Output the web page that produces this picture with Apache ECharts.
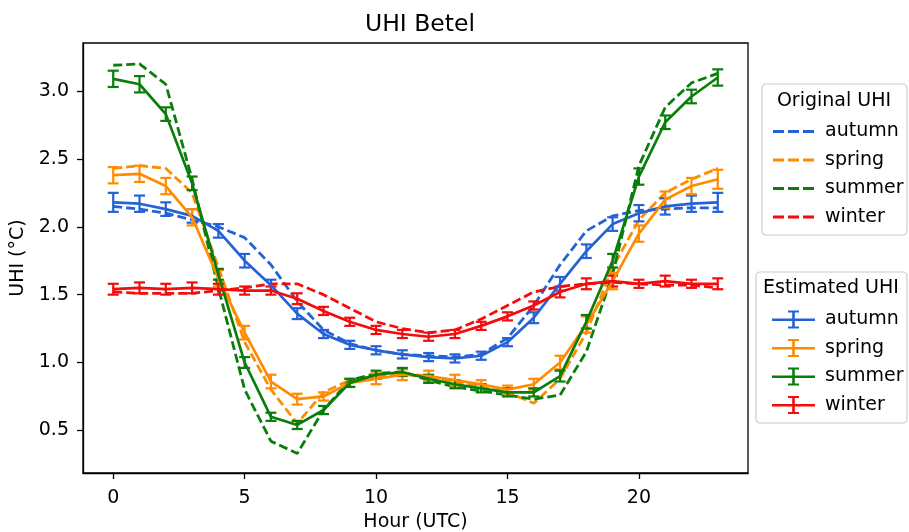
<!DOCTYPE html>
<html>
<head>
<meta charset="utf-8">
<script src="https://cdn.jsdelivr.net/npm/echarts@6/dist/echarts.min.js"></script>
<style>html,body{margin:0;padding:0;background:#fff}#c{width:909px;height:532px}</style>
</head>
<body>
<div id="c"></div>
<script>
const hours = [0,1,2,3,4,5,6,7,8,9,10,11,12,13,14,15,16,17,18,19,20,21,22,23];
const seasons = ['autumn','spring','summer','winter'];
const colors = {autumn:'#2462d6', spring:'#ff8c00', summer:'#0a7d0a', winter:'#f50b0b'};
const xTicks = [0,5,10,15,20];
const yTicks = [0.5,1.0,1.5,2.0,2.5,3.0];

// Original UHI (dashed)
const origAutumn = [2.15,2.13,2.10,2.05,2.00,1.92,1.72,1.45,1.24,1.14,1.09,1.06,1.05,1.04,1.06,1.18,1.42,1.72,1.97,2.08,2.12,2.13,2.14,2.14];
const origSpring = [2.43,2.45,2.43,2.25,1.70,1.15,0.80,0.55,0.78,0.87,0.90,0.92,0.90,0.86,0.82,0.78,0.70,0.88,1.22,1.70,2.05,2.25,2.35,2.43];
const origSummer = [3.19,3.20,3.05,2.35,1.55,0.80,0.42,0.33,0.65,0.87,0.92,0.93,0.87,0.82,0.79,0.76,0.73,0.76,1.08,1.65,2.45,2.88,3.06,3.13];
const origWinter = [1.52,1.51,1.51,1.51,1.53,1.55,1.58,1.58,1.50,1.40,1.30,1.25,1.22,1.24,1.32,1.42,1.52,1.56,1.58,1.59,1.58,1.57,1.57,1.55];

// Estimated UHI (solid with error bars)
const estAutumn = [2.18,2.17,2.13,2.08,1.97,1.75,1.57,1.36,1.21,1.13,1.09,1.06,1.04,1.03,1.05,1.15,1.33,1.58,1.82,2.02,2.10,2.15,2.17,2.18];
const estSpring = [2.38,2.39,2.30,2.07,1.62,1.22,0.86,0.73,0.75,0.85,0.88,0.91,0.90,0.87,0.84,0.80,0.84,1.00,1.28,1.60,1.95,2.20,2.30,2.35];
const estSummer = [3.09,3.05,2.83,2.32,1.65,1.00,0.60,0.54,0.65,0.85,0.91,0.93,0.88,0.84,0.81,0.78,0.78,0.90,1.30,1.75,2.37,2.77,2.96,3.10];
const estWinter = [1.54,1.55,1.54,1.55,1.54,1.53,1.53,1.47,1.38,1.30,1.24,1.21,1.19,1.21,1.27,1.34,1.42,1.52,1.58,1.60,1.58,1.60,1.58,1.58];

const errAutumn = [0.07,0.06,0.05,0.05,0.05,0.05,0.04,0.04,0.03,0.03,0.03,0.03,0.03,0.03,0.03,0.03,0.04,0.05,0.05,0.05,0.06,0.06,0.06,0.07];
const errSpring = [0.06,0.06,0.06,0.06,0.06,0.05,0.05,0.04,0.03,0.03,0.04,0.04,0.04,0.04,0.03,0.03,0.04,0.05,0.06,0.06,0.06,0.06,0.06,0.07];
const errSummer = [0.06,0.06,0.05,0.05,0.04,0.04,0.03,0.03,0.03,0.03,0.03,0.03,0.03,0.03,0.03,0.03,0.03,0.04,0.05,0.05,0.06,0.05,0.05,0.06];
const errWinter = [0.04,0.04,0.04,0.04,0.04,0.03,0.03,0.04,0.03,0.03,0.03,0.03,0.03,0.03,0.03,0.03,0.03,0.04,0.04,0.04,0.03,0.04,0.03,0.04];

const orig = {autumn:origAutumn, spring:origSpring, summer:origSummer, winter:origWinter};
const est = {autumn:estAutumn, spring:estSpring, summer:estSummer, winter:estWinter};
const err = {autumn:errAutumn, spring:errSpring, summer:errSummer, winter:errWinter};

const FONT = 'DejaVu Sans';
const FS = 19;
const series = [];
seasons.forEach(s => {
  series.push({
    name: 'Original ' + s, type: 'line', data: hours.map((h,i)=>[h, orig[s][i]]),
    showSymbol: false, symbol: 'none', color: colors[s], z: 2,
    lineStyle: {color: colors[s], width: 2.8, type: [9,4]}, emphasis:{disabled:true}
  });
});
seasons.forEach(s => {
  series.push({
    name: 'Estimated ' + s, type: 'line', data: hours.map((h,i)=>[h, est[s][i]]),
    showSymbol: false, symbol: 'none', color: colors[s], z: 3,
    lineStyle: {color: colors[s], width: 2.7}, emphasis:{disabled:true}
  });
  series.push({
    name: 'Estimated ' + s, type: 'custom', color: colors[s], z: 3,
    data: hours.map((h,i)=>[h, est[s][i]-err[s][i], est[s][i]+err[s][i]]),
    renderItem: function(params, api){
      const lo = api.coord([api.value(0), api.value(1)]);
      const hi = api.coord([api.value(0), api.value(2)]);
      const hw = 5.5;
      const st = {stroke: colors[s], lineWidth: 2.2};
      return {type:'group', children:[
        {type:'line', shape:{x1:lo[0], y1:lo[1], x2:hi[0], y2:hi[1]}, style:st},
        {type:'line', shape:{x1:lo[0]-hw, y1:lo[1], x2:lo[0]+hw, y2:lo[1]}, style:st},
        {type:'line', shape:{x1:hi[0]-hw, y1:hi[1], x2:hi[0]+hw, y2:hi[1]}, style:st}
      ]};
    }
  });
});

const dashIcon = 'path://M0,0h11v3h-11z M15,0h11v3h-11z M30,0h11v3h-11z';
const ebIcon = 'path://M0,8h43v2.6h-43z M20.2,1h2.6v16h-2.6z M16,0h11v2h-11z M16,16h11v2h-11z';

const chart = echarts.init(document.getElementById('c'), null, {renderer:'canvas'});
chart.setOption({
  animation: false,
  backgroundColor: '#fff',
  textStyle: {fontFamily: FONT},
  title: {text: 'UHI Betel', left: 415, top: 8, textAlign: 'center',
    textStyle: {fontFamily: FONT, fontSize: 23.5, fontWeight: 'normal', color: '#000'}},
  grid: {left: 83, right: 161, top: 43, bottom: 59, show: true, borderColor: '#000', borderWidth: 1.3,
    backgroundColor:'transparent', containLabel: false, outerBoundsMode: 'none'},
  xAxis: {
    type: 'value', min: -1.15, max: 24.15,
    name: 'Hour (UTC)', nameLocation: 'middle', nameGap: 40,
    nameTextStyle: {fontFamily: FONT, fontSize: FS, color: '#000'},
    axisLine: {show: true, onZero: false, lineStyle: {color: '#000', width: 1.3}},
    axisTick: {show: true, length: 6, lineStyle: {color: '#000', width: 1.3}, customValues: xTicks},
    axisLabel: {fontFamily: FONT, fontSize: FS, color: '#000', margin: 16, customValues: xTicks},
    splitLine: {show: false}
  },
  yAxis: {
    type: 'value', min: 0.186, max: 3.354,
    name: 'UHI (°C)', nameLocation: 'middle', nameGap: 46, nameRotate: 90,
    nameTextStyle: {fontFamily: FONT, fontSize: FS, color: '#000'},
    axisLine: {show: true, onZero: false, lineStyle: {color: '#000', width: 1.3}},
    axisTick: {show: true, length: 6, lineStyle: {color: '#000', width: 1.3}, customValues: yTicks},
    axisLabel: {fontFamily: FONT, fontSize: FS, color: '#000', margin: 14, customValues: yTicks,
      formatter: v => v.toFixed(1)},
    splitLine: {show: false}
  },
  graphic: [
    {type:'rect', x: 762, y: 84, shape:{width:145, height:151, r:4}, style:{fill:'#fff', stroke:'#cccccc', lineWidth:1.2}, z: 10},
    {type:'text', x: 834, y: 101, style:{text:'Original UHI', fontFamily: FONT, fontSize: FS, fill:'#000', align:'center', verticalAlign:'middle'}, z: 11},
    {type:'rect', x: 756, y: 272, shape:{width:151, height:151, r:4}, style:{fill:'#fff', stroke:'#cccccc', lineWidth:1.2}, z: 10},
    {type:'text', x: 831, y: 288, style:{text:'Estimated UHI', fontFamily: FONT, fontSize: FS, fill:'#000', align:'center', verticalAlign:'middle'}, z: 11}
  ],
  legend: [
    {data: seasons.map(s => ({name:'Original ' + s, icon: dashIcon})),
     orient:'vertical', left: 768, top: 117, itemWidth: 41, itemHeight: 3, itemGap: 9.5,
     formatter: n => n.replace('Original ', ''), selectedMode: false, z: 12,
     textStyle: {fontFamily: FONT, fontSize: FS, color:'#000', padding:[0,0,0,6]}},
    {data: seasons.map(s => ({name:'Estimated ' + s, icon: ebIcon})),
     orient:'vertical', left: 767, top: 305, itemWidth: 43, itemHeight: 18, itemGap: 9.5,
     formatter: n => n.replace('Estimated ', ''), selectedMode: false, z: 12,
     textStyle: {fontFamily: FONT, fontSize: FS, color:'#000', padding:[0,0,0,5]}}
  ],
  series: series
});
</script>
</body>
</html>
